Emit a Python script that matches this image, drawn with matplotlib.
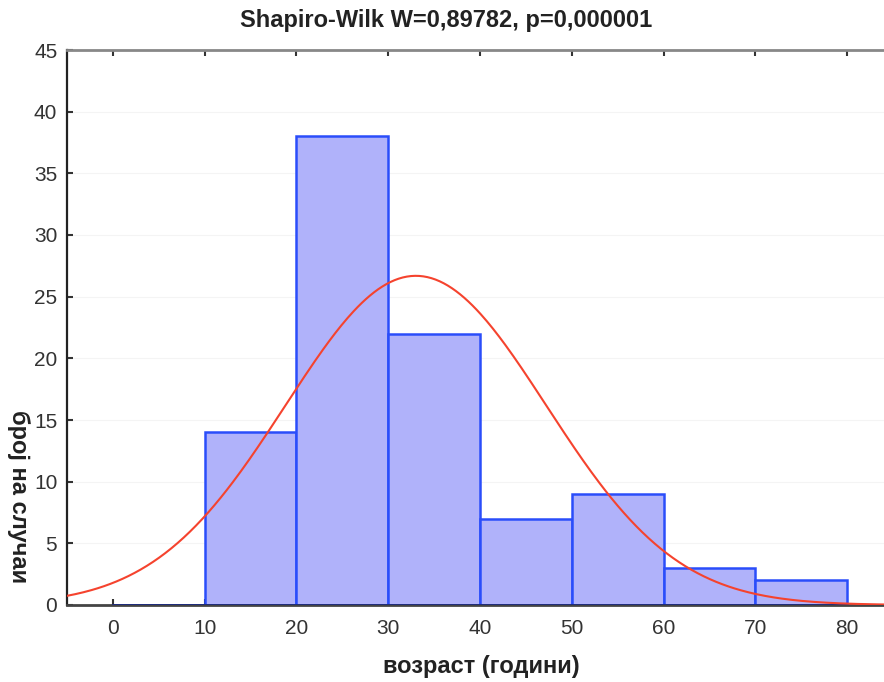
import numpy as np
import matplotlib
matplotlib.use('Agg')
import matplotlib.pyplot as plt

# histogram of ages
bin_edges = [0, 10, 20, 30, 40, 50, 60, 70, 80]
counts = [0, 14, 38, 22, 7, 9, 3, 2]

# fitted normal curve parameters
fit_mean = 33.0
fit_sd = 14.2
n_total = sum(counts)

title = 'Shapiro-Wilk W=0,89782, p=0,000001'
xlabel = 'возраст (години)'
ylabel = 'број на случаи'
xticks = [0, 10, 20, 30, 40, 50, 60, 70, 80]
yticks = [0, 5, 10, 15, 20, 25, 30, 35, 40, 45]

plt.rcParams['font.family'] = ['Liberation Sans', 'DejaVu Sans']

fig = plt.figure(figsize=(8.84, 6.82), dpi=100)
ax = fig.add_axes([67 / 884, 1 - 605 / 682, 1 - 67 / 884, (605 - 50) / 682])

lefts = bin_edges[:-1]
widths = np.diff(bin_edges)
ax.bar(lefts, counts, width=widths, align='edge', color='#b0b2fa',
       edgecolor='#2a4dfa', linewidth=1.8, zorder=2)
# bottom line for the bin span
ax.plot([bin_edges[0], bin_edges[-1]], [0, 0], color='#1c2a80', lw=2, zorder=3)

xs = np.linspace(-5, 84, 400)
bw = bin_edges[1] - bin_edges[0]
ys = n_total * bw / (fit_sd * np.sqrt(2 * np.pi)) * np.exp(-(xs - fit_mean) ** 2 / (2 * fit_sd ** 2))
ax.plot(xs, ys, color='#f5432e', lw=1.5, zorder=4)

ax.set_xlim(-5, 84)
ax.set_ylim(0, 45)
ax.set_xticks(xticks)
ax.set_yticks(yticks)
ax.grid(axis='y', color='#f4f4f4', lw=0.8, zorder=0)
ax.set_axisbelow(True)

ax.spines['right'].set_visible(False)
ax.spines['top'].set_color('#888888')
ax.spines['top'].set_linewidth(2)
ax.spines['left'].set_color('#222222')
ax.spines['left'].set_linewidth(1.6)
ax.spines['bottom'].set_color('#444444')
ax.spines['bottom'].set_linewidth(2)
ax.tick_params(axis='both', direction='in', length=4, width=1.5, labelsize=15,
               colors='#333333', top=True)
ax.tick_params(axis='y', pad=7)
ax.tick_params(axis='x', pad=10)

fig.text(446 / 884, 1 - 20 / 682, title, ha='center', va='center',
         fontsize=17, fontweight='bold', color='#222222')
fig.text(481 / 884, 1 - 666 / 682, xlabel, ha='center', va='center',
         fontsize=17, fontweight='bold', color='#222222')
fig.text(18 / 884, 1 - 497 / 682, ylabel, ha='center', va='center',
         rotation=270, fontsize=17, fontweight='bold', color='#222222')

fig.savefig('out.png', dpi=100)
